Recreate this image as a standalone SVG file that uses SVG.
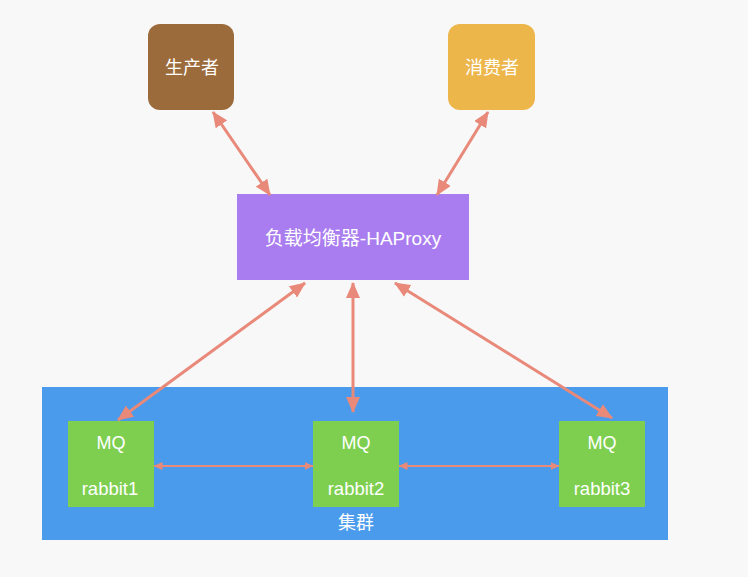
<svg xmlns="http://www.w3.org/2000/svg" width="748" height="577" viewBox="0 0 748 577">
<defs>
<style>
.t{font-family:"Liberation Sans","Noto Sans CJK SC",sans-serif;fill:#ffffff;text-anchor:middle}
.big{stroke:#E8897A;stroke-width:3;fill:none}
.small{stroke:#E8897A;stroke-width:2;fill:none}
.mq{fill:#7ECF50}
</style>
<marker id="ah" markerUnits="userSpaceOnUse" markerWidth="16" markerHeight="14" refX="15" refY="7" orient="auto-start-reverse">
<path d="M0,0 L16,7 L0,14 Z" fill="#E8897A"/>
</marker>
<marker id="as" markerUnits="userSpaceOnUse" markerWidth="9" markerHeight="8" refX="8.5" refY="4" orient="auto-start-reverse">
<path d="M0,0 L9,4 L0,8 Z" fill="#E8897A"/>
</marker>
</defs>
<rect width="748" height="577" fill="#F8F8F8"/>
<g id="cluster">
<rect x="42" y="387" width="626" height="153" fill="#4A9BEC"/>
<text class="t" x="356" y="529" font-size="18">集群</text>
</g>
<g id="producer">
<rect x="148" y="24" width="86" height="86" rx="12" fill="#9C6B3C"/>
<text class="t" x="192" y="74" font-size="18">生产者</text>
</g>
<g id="consumer">
<rect x="448" y="24" width="87" height="86" rx="12" fill="#EDB64B"/>
<text class="t" x="492" y="74" font-size="18">消费者</text>
</g>
<g id="haproxy">
<rect x="237" y="194" width="232" height="86" fill="#A97DEF"/>
<text class="t" x="353" y="245" font-size="19">负载均衡器-HAProxy</text>
</g>
<g id="rabbit1">
<rect class="mq" x="68" y="421" width="86" height="86"/>
<text class="t" x="111" y="449" font-size="18">MQ</text>
<text class="t" x="110" y="495" font-size="18.5">rabbit1</text>
</g>
<g id="rabbit2">
<rect class="mq" x="313" y="421" width="86" height="86"/>
<text class="t" x="356" y="449" font-size="18">MQ</text>
<text class="t" x="356" y="495" font-size="18.5">rabbit2</text>
</g>
<g id="rabbit3">
<rect class="mq" x="559" y="421" width="86" height="86"/>
<text class="t" x="602" y="449" font-size="18">MQ</text>
<text class="t" x="602" y="495" font-size="18.5">rabbit3</text>
</g>
<g id="connectors">
<line class="big" x1="213" y1="112" x2="270" y2="195" marker-start="url(#ah)" marker-end="url(#ah)"/>
<line class="big" x1="488" y1="112" x2="437" y2="195" marker-start="url(#ah)" marker-end="url(#ah)"/>
<line class="big" x1="305" y1="283" x2="118" y2="420" marker-start="url(#ah)" marker-end="url(#ah)"/>
<line class="big" x1="353" y1="283" x2="353" y2="412" marker-start="url(#ah)" marker-end="url(#ah)"/>
<line class="big" x1="395" y1="283" x2="612" y2="418" marker-start="url(#ah)" marker-end="url(#ah)"/>
<line class="small" x1="154" y1="466" x2="313" y2="466" marker-start="url(#as)" marker-end="url(#as)"/>
<line class="small" x1="399" y1="466" x2="559" y2="466" marker-start="url(#as)" marker-end="url(#as)"/>
</g>
</svg>
